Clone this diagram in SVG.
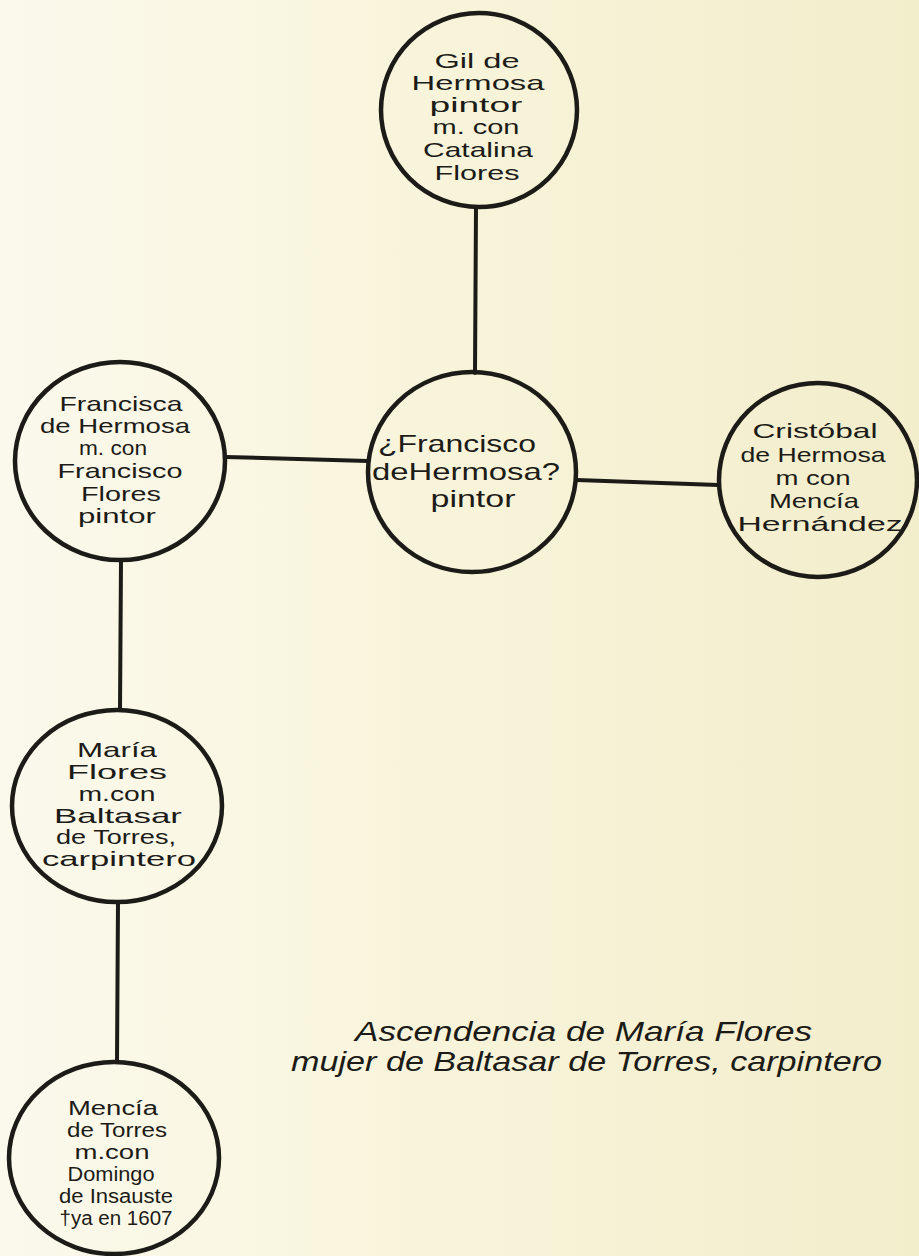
<svg xmlns="http://www.w3.org/2000/svg" width="919" height="1256" viewBox="0 0 919 1256">
<defs>
<linearGradient id="paper" x1="0" y1="0" x2="1" y2="0">
<stop offset="0" stop-color="#fbf9ec"/>
<stop offset="0.5" stop-color="#f8f4da"/>
<stop offset="1" stop-color="#f2edcb"/>
</linearGradient>
<style>
.node{fill:none;stroke:#1c1b17;stroke-width:4.5}
.edge{stroke:#1c1b17;stroke-width:4;fill:none;stroke-linecap:round}
.t{font-family:"Liberation Sans Narrow","Liberation Sans",Arial,sans-serif;fill:#1c1b17;text-anchor:middle}
.s20{font-size:20px}
.s21{font-size:21px}
.s24{font-size:24px}
.cap{font-family:"Liberation Sans",Arial,sans-serif;font-style:italic;font-size:28px;fill:#1c1b17}
</style>
</defs>
<rect x="0" y="0" width="919" height="1256" fill="url(#paper)"/>

<g id="connectors">
<line class="edge" x1="476" y1="207" x2="475" y2="373"/>
<line class="edge" x1="226" y1="457" x2="368" y2="461"/>
<line class="edge" x1="577" y1="480" x2="718" y2="485"/>
<line class="edge" x1="121" y1="560" x2="120" y2="710"/>
<line class="edge" x1="118" y1="902" x2="117" y2="1062"/>
</g>

<g id="node-gil">
<ellipse class="node" cx="479" cy="110" rx="98" ry="97"/>
<text class="t s21" x="477" y="68" textLength="85" lengthAdjust="spacingAndGlyphs">Gil de</text>
<text class="t s21" x="478" y="90" textLength="133" lengthAdjust="spacingAndGlyphs">Hermosa</text>
<text class="t s21" x="476" y="112" textLength="93" lengthAdjust="spacingAndGlyphs">pintor</text>
<text class="t s21" x="476" y="134" textLength="87" lengthAdjust="spacingAndGlyphs">m. con</text>
<text class="t s21" x="478" y="157" textLength="110" lengthAdjust="spacingAndGlyphs">Catalina</text>
<text class="t s21" x="477" y="180" textLength="85" lengthAdjust="spacingAndGlyphs">Flores</text>
</g>

<g id="node-francisca">
<ellipse class="node" cx="120" cy="461" rx="105" ry="99"/>
<text class="t s21" x="121" y="411" textLength="123" lengthAdjust="spacingAndGlyphs">Francisca</text>
<text class="t s21" x="115" y="433" textLength="150" lengthAdjust="spacingAndGlyphs">de Hermosa</text>
<text class="t s21" x="113" y="455" textLength="68" lengthAdjust="spacingAndGlyphs">m. con</text>
<text class="t s21" x="120" y="478" textLength="125" lengthAdjust="spacingAndGlyphs">Francisco</text>
<text class="t s21" x="121" y="501" textLength="80" lengthAdjust="spacingAndGlyphs">Flores</text>
<text class="t s21" x="117" y="523" textLength="78" lengthAdjust="spacingAndGlyphs">pintor</text>
</g>

<g id="node-francisco">
<ellipse class="node" cx="472" cy="472" rx="104" ry="100"/>
<text class="t s24" x="457" y="452" textLength="158" lengthAdjust="spacingAndGlyphs">¿Francisco</text>
<text class="t s24" x="466" y="480" textLength="188" lengthAdjust="spacingAndGlyphs">deHermosa?</text>
<text class="t s24" x="473" y="507" textLength="85" lengthAdjust="spacingAndGlyphs">pintor</text>
</g>

<g id="node-cristobal">
<ellipse class="node" cx="818" cy="480" rx="99" ry="97"/>
<text class="t s21" x="815" y="438" textLength="125" lengthAdjust="spacingAndGlyphs">Cristóbal</text>
<text class="t s21" x="813" y="462" textLength="145" lengthAdjust="spacingAndGlyphs">de Hermosa</text>
<text class="t s21" x="813" y="485" textLength="75" lengthAdjust="spacingAndGlyphs">m con</text>
<text class="t s21" x="814" y="508" textLength="90" lengthAdjust="spacingAndGlyphs">Mencía</text>
<text class="t s21" x="820" y="531" textLength="165" lengthAdjust="spacingAndGlyphs">Hernández</text>
</g>

<g id="node-maria">
<ellipse class="node" cx="117" cy="806" rx="105" ry="96"/>
<text class="t s21" x="117" y="757" textLength="80" lengthAdjust="spacingAndGlyphs">María</text>
<text class="t s21" x="117" y="779" textLength="100" lengthAdjust="spacingAndGlyphs">Flores</text>
<text class="t s21" x="117" y="801" textLength="77" lengthAdjust="spacingAndGlyphs">m.con</text>
<text class="t s21" x="118" y="823" textLength="128" lengthAdjust="spacingAndGlyphs">Baltasar</text>
<text class="t s21" x="116" y="844" textLength="120" lengthAdjust="spacingAndGlyphs">de Torres,</text>
<text class="t s21" x="119" y="866" textLength="154" lengthAdjust="spacingAndGlyphs">carpintero</text>
</g>

<g id="node-mencia">
<ellipse class="node" cx="114" cy="1158" rx="105" ry="96"/>
<text class="t s20" x="113" y="1115" textLength="90" lengthAdjust="spacingAndGlyphs">Mencía</text>
<text class="t s20" x="117" y="1137" textLength="100" lengthAdjust="spacingAndGlyphs">de Torres</text>
<text class="t s20" x="112" y="1159" textLength="75" lengthAdjust="spacingAndGlyphs">m.con</text>
<text class="t s20" x="111" y="1181" textLength="87" lengthAdjust="spacingAndGlyphs">Domingo</text>
<text class="t s20" x="116" y="1203" textLength="114" lengthAdjust="spacingAndGlyphs">de Insauste</text>
<text class="t s20" x="116" y="1225" textLength="113" lengthAdjust="spacingAndGlyphs">†ya en 1607</text>
</g>

<g id="caption">
<text class="cap" x="355" y="1041" textLength="457" lengthAdjust="spacingAndGlyphs">Ascendencia de María Flores</text>
<text class="cap" x="291" y="1071" textLength="591" lengthAdjust="spacingAndGlyphs">mujer de Baltasar de Torres, carpintero</text>
</g>
</svg>
